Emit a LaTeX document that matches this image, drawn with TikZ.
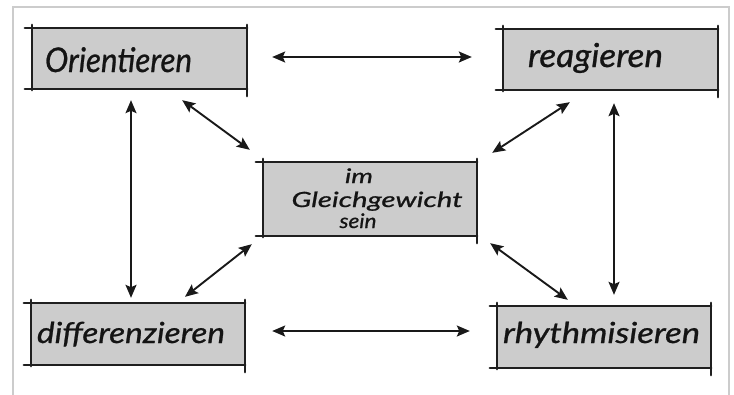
\documentclass[tikz,border=0pt]{standalone}
\usepackage{fontspec}
\setmainfont{Lato}[ItalicFeatures={FakeBold=0.8}]
\usepackage{graphicx}
\usetikzlibrary{arrows.meta}

% handwritten-looking label: italic text stretched to a given width
\newcommand{\handtxt}[3]{{\fontsize{#1}{#1}\selectfont\itshape\resizebox{#2}{\height}{#3}}}

% sketchy box outline with overshooting strokes
\newcommand{\sketchframe}[1]{%
  \draw[boxline] ([xshift=-7pt]#1.north west) -- (#1.north east);
  \draw[boxline] ([xshift=-7pt]#1.south west) -- (#1.south east);
  \draw[boxline] ([yshift=3pt]#1.north west) -- ([yshift=-1pt]#1.south west);
  \draw[boxline] ([yshift=3pt]#1.north east) -- ([yshift=-7pt]#1.south east);
}

\tikzset{
  boxfill/.style={fill=black!20, draw=none, inner sep=0pt},
  boxline/.style={line width=2.3pt, draw=black!88, line cap=round},
  label/.style={inner sep=0pt, outer sep=0pt, text=black!92},
  link/.style={line width=1.9pt, draw=black!90,
    {Stealth[length=13pt,width=11pt,inset=2.5pt]}-{Stealth[length=13pt,width=11pt,inset=2.5pt]}},
  frameline/.style={line width=2.4pt, draw=black!20}
}

\begin{document}
\begin{tikzpicture}[x=1pt,y=-1pt]
  \useasboundingbox (0,0) rectangle (734,394);
  \fill[white] (0,0) rectangle (734,394);

  % outer frame
  \draw[frameline] (13,410) -- (13,7) -- (729,7) -- (729,410);

  % boxes
  \node[boxfill, minimum width=215pt, minimum height=61pt] (or) at (139.5,58.5) {};
  \node[boxfill, minimum width=215pt, minimum height=61pt] (re) at (610.5,59.5) {};
  \node[boxfill, minimum width=214pt, minimum height=74pt] (ce) at (370,199) {};
  \node[boxfill, minimum width=214pt, minimum height=62pt] (di) at (138,334) {};
  \node[boxfill, minimum width=214pt, minimum height=62pt] (rh) at (604,337) {};

  \sketchframe{or}
  \sketchframe{re}
  \sketchframe{ce}
  \sketchframe{di}
  \sketchframe{rh}

  % labels
  \node[label, anchor=base west] (orT) at (45,72) {\handtxt{34pt}{147pt}{Orientieren}};
  \node[label, anchor=base west] (reT) at (528,67) {\handtxt{33pt}{135pt}{reagieren}};
  \node[label, anchor=base west] (diT) at (37,343) {\handtxt{29pt}{188pt}{differenzieren}};
  \node[label, anchor=base west] (rhT) at (503,343) {\handtxt{29pt}{197pt}{rhythmisieren}};
  \node[label, anchor=base] (ceA) at (359,183) {\handtxt{20pt}{28pt}{im}};
  \node[label, anchor=base] (ceB) at (377,207) {\handtxt{21pt}{171pt}{Gleichgewicht}};
  \node[label, anchor=base] (ceC) at (358,228) {\handtxt{20pt}{37pt}{sein}};

  % connectors
  \draw[link] ([xshift=25pt,yshift=1.5pt]or.east) -- ([xshift=-31pt,yshift=2.5pt]re.west);
  \draw[link] ([xshift=27pt,yshift=3pt]di.east) -- ([xshift=-27pt,yshift=6pt]rh.west);
  \draw[link] ([xshift=-8.5pt,yshift=-11pt]or.south) -- ([xshift=-7pt,yshift=5pt]di.north);
  \draw[link] ([xshift=3.5pt,yshift=-13pt]re.south) -- ([xshift=10pt,yshift=11pt]rh.north);
  \draw[link] ([xshift=-65pt,yshift=-11pt]or.south east) -- ([xshift=-13pt,yshift=12pt]ce.north west);
  \draw[link] ([xshift=67pt,yshift=-12pt]re.south west) -- ([xshift=15pt,yshift=9pt]ce.north east);
  \draw[link] ([xshift=-11pt,yshift=-8pt]ce.south west) -- ([xshift=47pt,yshift=6pt]di.north);
  \draw[link] ([xshift=13pt,yshift=-7pt]ce.south east) -- ([xshift=71pt,yshift=6pt]rh.north west);
\end{tikzpicture}
\end{document}
